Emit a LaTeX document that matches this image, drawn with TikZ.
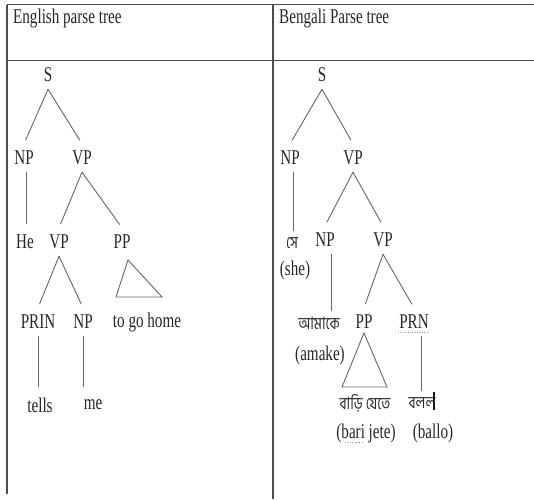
\documentclass[tikz,border=0pt]{standalone}
\usepackage{fontspec}
\setmainfont{Liberation Serif}[FakeStretch=0.72]
\newfontfamily\bnfont{Hind Siliguri}[Script=Bengali, FakeStretch=0.8]
\begin{document}
\begin{tikzpicture}[x=1pt,y=-1pt,
  lab/.style={font=\fontsize{21}{23}\selectfont, text=black!85, inner sep=0pt, minimum height=28pt},
  bn/.style={font=\bnfont\fontsize{17}{19}\selectfont, text=black!85, inner sep=0pt, minimum height=24pt},
  edge/.style={draw=black!60, line width=0.9pt, shorten >=4pt},
  leaf/.style={draw=black!60, line width=0.9pt},
  grid/.style={draw=black!70, line width=1.4pt}]
\useasboundingbox (0,0) rectangle (534,499);

% table frame
\draw[grid] (7,4.5) -- (534,4.5);
\draw[grid] (7,60.5) -- (534,60.5);
\draw[grid] (7,4.5) -- (7,494);
\draw[grid] (273,4.5) -- (273,499);

% column headings
\node[lab, anchor=west] (h1) at (13,18) {English parse tree};
\node[lab, anchor=west] (h2) at (279,18) {Bengali Parse tree};

% English tree
\node[lab] (S1)   at (48,75)   {S};
\node[lab] (NP1)  at (24,158)  {NP};
\node[lab] (VP1)  at (82,158)  {VP};
\node[lab] (He)   at (25,242)  {He};
\node[lab] (VP2)  at (59,242)  {VP};
\node[lab] (PP1)  at (122,242) {PP};
\node[lab] (PRIN) at (38,322)  {PRIN};
\node[lab] (NP2)  at (83,322)  {NP};
\node[lab] (home) at (147,322) {to go home};
\node[lab] (tells) at (40,405) {tells};
\node[lab] (me)   at (93,405)  {me};

\draw[edge] (S1.south) -- (NP1.north);
\draw[edge] (S1.south) -- (VP1.north);
\draw[edge] ([xshift=2]NP1.south) -- ([xshift=2]NP1.south |- He.north);
\draw[edge] (VP1.south) -- (VP2.north);
\draw[edge] (VP1.south) -- (PP1.north);
\draw[edge] (VP2.south) -- (PRIN.north);
\draw[edge] (VP2.south) -- (NP2.north);
\draw[edge] (PRIN.south) -- (PRIN.south |- tells.north);
\draw[edge] (NP2.south) -- (NP2.south |- me.north);
\draw[leaf] (128,260) -- (116,297) -- (162,297) -- cycle;

% Bengali tree
\node[lab] (S2)  at (322,75)  {S};
\node[lab] (NP3) at (290,158) {NP};
\node[lab] (VP3) at (353,158) {VP};
\node[bn]  (se)  at (292,243) {সে};
\node[lab] (she) at (295,270) {(she)};
\node[lab] (NP4) at (325,240) {NP};
\node[lab] (VP4) at (383,240) {VP};
\node[bn]  (amake)  at (319,323) {আমাকে};
\node[lab] (amakeT) at (320,355) {(amake)};
\node[lab] (PP2) at (364,322) {PP};
\node[lab] (PRN) at (414,322) {PRN};
\node[bn]  (bari)  at (365,403) {বাড়ি যেতে};
\node[lab] (bariT) at (366,433) {(bari jete)};
\node[bn]  (ballo)  at (422,403) {বলল};
\node[lab] (balloT) at (433,433) {(ballo)};

\draw[edge] (S2.south) -- (NP3.north);
\draw[edge] (S2.south) -- (VP3.north);
\draw[leaf] ([xshift=3]NP3.south) -- ([xshift=3]NP3.south |- se.north);
\draw[edge] (VP3.south) -- (NP4.north);
\draw[edge] (VP3.south) -- (VP4.north);
\draw[leaf] ([xshift=6]NP4.south) -- ([xshift=6]NP4.south |- amake.north);
\draw[edge] (VP4.south) -- (PP2.north);
\draw[edge] (VP4.south) -- (PRN.north);
\draw[leaf] ([xshift=7]PRN.south) -- ([xshift=7]PRN.south |- ballo.north);
\draw[leaf] (364,333) -- (342,387) -- (387,387) -- cycle;

% text cursor and spelling marks
\draw[line width=2pt, black!90] (434,392) -- (434,410);
\draw[dotted, black!40] (398,332) -- (429,332);
\draw[dotted, black!40] (345,442) -- (362,442);
\end{tikzpicture}
\end{document}
